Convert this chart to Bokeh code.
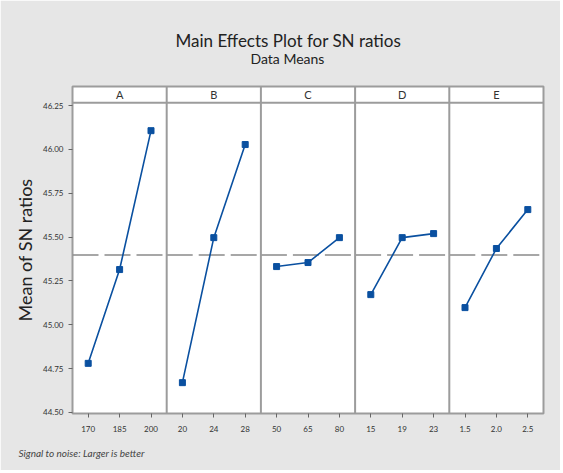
import numpy as np
from bokeh.plotting import figure
from bokeh.models import Range1d, FixedTicker, Title, Span
from bokeh.core.properties import value
from bokeh.embed import file_html
from bokeh.resources import INLINE

factors = ["A", "B", "C", "D", "E"]
levels_A = ["170", "185", "200"]
levels_B = ["20", "24", "28"]
levels_C = ["50", "65", "80"]
levels_D = ["15", "19", "23"]
levels_E = ["1.5", "2.0", "2.5"]
sn_A = [44.78, 45.315, 46.107]
sn_B = [44.67, 45.497, 46.028]
sn_C = [45.332, 45.355, 45.497]
sn_D = [45.172, 45.497, 45.52]
sn_E = [45.098, 45.435, 45.657]
y_ticks = [44.50, 44.75, 45.00, 45.25, 45.50, 45.75, 46.00, 46.25]

levels = [levels_A, levels_B, levels_C, levels_D, levels_E]
sns = [sn_A, sn_B, sn_C, sn_D, sn_E]

FONT = "Lato"
BG = "#e6e6e6"
GRID = "#9c9c9c"
BLUE = "#0a50a0"

y_lo, y_data_hi, y_hi = 44.494, 46.267, 46.359

p = figure(width=560, height=470, output_backend="svg", toolbar_location=None,
           x_range=Range1d(0.5, 15.5), y_range=Range1d(y_lo, y_hi),
           min_border_left=72, min_border_right=17, min_border_top=86,
           min_border_bottom=57)
p.border_fill_color = BG
p.background_fill_color = "white"
p.outline_line_color = GRID
p.outline_line_width = 2
p.xgrid.visible = False
p.ygrid.visible = False

grand_mean = float(np.mean([v for s in sns for v in s]))

tick_pos = []
overrides = {}
for i, (lv, sv) in enumerate(zip(levels, sns)):
    xs = [3 * i + j + 1 for j in range(len(lv))]
    for x, l in zip(xs, lv):
        tick_pos.append(x)
        overrides[x] = l
    p.segment(x0=[3 * i + 0.5], y0=[grand_mean], x1=[3 * i + 3.5], y1=[grand_mean],
              line_color="#8a8a8a", line_width=1.5, line_dash="26 6")
    p.line(xs, sv, line_color=BLUE, line_width=1.6)
    p.scatter(xs, sv, marker="square", size=6, fill_color=BLUE, line_color=BLUE)

# strip headers
p.text(x=[3 * i + 2 for i in range(len(factors))], y=[(y_data_hi + y_hi) / 2] * len(factors),
       text=factors, text_align="center", text_baseline="middle",
       text_font=value(FONT), text_font_size="11px", text_color="#333333")
p.add_layout(Span(location=y_data_hi, dimension="width", line_color=GRID, line_width=2))
for b in [3.5, 6.5, 9.5, 12.5]:
    p.add_layout(Span(location=b, dimension="height", line_color=GRID, line_width=2))

# axes
p.xaxis.ticker = FixedTicker(ticks=tick_pos)
p.xaxis.major_label_overrides = overrides
p.yaxis.ticker = FixedTicker(ticks=y_ticks)
p.yaxis.major_label_overrides = {t: f"{t:.2f}" for t in y_ticks}
for ax in (p.xaxis[0], p.yaxis[0]):
    ax.axis_line_color = None
    ax.major_tick_line_color = "#666666"
    ax.major_tick_out = 4
    ax.major_tick_in = 0
    ax.minor_tick_line_color = None
    ax.major_label_text_font = FONT
    ax.major_label_text_font_size = "8px"
    ax.major_label_text_color = "#333333"
p.xaxis.major_label_standoff = 8
p.yaxis.major_label_standoff = 5
p.yaxis.axis_label = "Mean of SN ratios"
p.yaxis.axis_label_text_font = FONT
p.yaxis.axis_label_text_font_size = "18px"
p.yaxis.axis_label_text_font_style = "normal"
p.yaxis.axis_label_text_color = "#222222"
p.yaxis.axis_label_standoff = 4

p.add_layout(Title(text="Data Means", align="left", text_font=FONT, text_font_size="14px",
                   text_font_style="normal", text_color="#222222", offset=178,
                   standoff=40), "above")
p.add_layout(Title(text="Main Effects Plot for SN ratios", align="left", text_font=FONT,
                   text_font_size="17px", text_font_style="normal", text_color="#222222",
                   offset=103, standoff=-46), "above")
p.add_layout(Title(text="Signal to noise: Larger is better", align="left", text_font=FONT,
                   text_font_size="10px", text_font_style="italic", text_color="#444444",
                   offset=-54, standoff=21), "below")

open("out.html", "w").write(file_html(p, INLINE))
